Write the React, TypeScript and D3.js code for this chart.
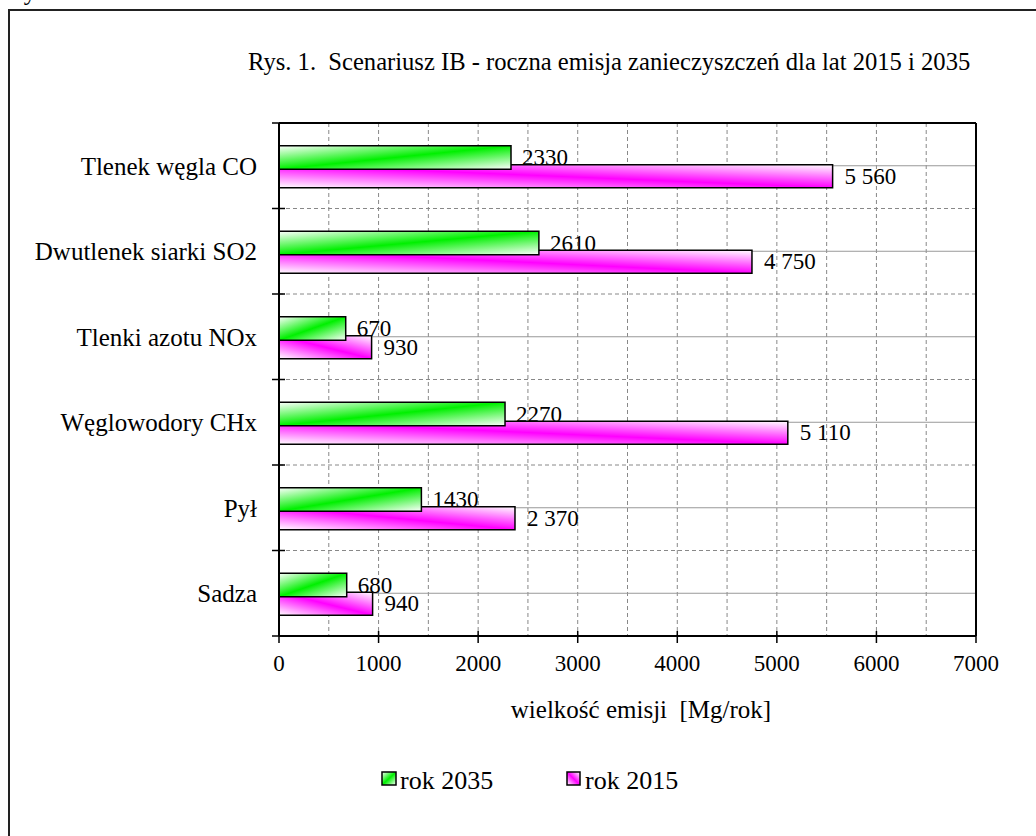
import React from "react";
import * as d3 from "d3";

const categories = ["Tlenek węgla CO", "Dwutlenek siarki SO2", "Tlenki azotu NOx", "Węglowodory CHx", "Pył", "Sadza"];
const values2035 = [2330, 2610, 670, 2270, 1430, 680];
const values2015 = [5560, 4750, 930, 5110, 2370, 940];
const xTicks = [0, 1000, 2000, 3000, 4000, 5000, 6000, 7000];
const seriesNames = ["rok 2035", "rok 2015"];
const title = "Rys. 1.  Scenariusz IB - roczna emisja zanieczyszczeń dla lat 2015 i 2035";
const xTitle = "wielkość emisji  [Mg/rok]";

const FONT = "'Liberation Serif', 'Times New Roman', serif";

export default function App() {
  const W = 1036, H = 836;
  const x = d3.scaleLinear().domain([0, 7000]).range([279, 976]);
  const y = d3.scaleBand<string>().domain(categories).range([123, 636]);
  const bw = y.bandwidth();
  const grid = d3.range(500, 7000, 500);
  const fmt2015 = (v: number) => d3.format(",")(v).replace(/,/g, " ");
  const fmt2035 = d3.format("d");
  const left = x(0), right = x(7000), top = 123, bottom = 636;
  const pre = { whiteSpace: "pre" as const };

  return (
    <svg width={W} height={H} style={{ position: "absolute", left: 0, top: 0, background: "#fff" }} fontFamily={FONT}>
      <defs>
        <linearGradient id="gGreen" x1="0" y1="0" x2="1" y2="1">
          <stop offset="0" stopColor="#ffffff" />
          <stop offset="0.5" stopColor="#00f000" />
          <stop offset="1" stopColor="#ffffff" />
        </linearGradient>
        <linearGradient id="gMag" x1="0" y1="1" x2="1" y2="0">
          <stop offset="0" stopColor="#ffffff" />
          <stop offset="0.5" stopColor="#ff00ff" />
          <stop offset="1" stopColor="#ffffff" />
        </linearGradient>
      </defs>
      <rect x={0} y={0} width={W} height={H} fill="#fff" />
      <text x={8} y={0} fontSize={25} fill="#000">Rys.</text>
      <rect x={9} y={10} width={1100} height={900} fill="none" stroke="#222" strokeWidth={2} />

      <text x={248} y={70} fontSize={24.6} fill="#000" style={pre}>{title}</text>

      {/* grid */}
      {grid.map((g) => (
        <line key={"v" + g} x1={x(g)} x2={x(g)} y1={top} y2={bottom} stroke="#888" strokeWidth={1} strokeDasharray="4,3" />
      ))}
      {categories.slice(1).map((c) => (
        <line key={"h" + c} x1={left} x2={right} y1={y(c)!} y2={y(c)!} stroke="#888" strokeWidth={1} strokeDasharray="4,3" />
      ))}
      {categories.map((c) => (
        <line key={"m" + c} x1={left} x2={right} y1={y(c)! + bw / 2} y2={y(c)! + bw / 2} stroke="#999" strokeWidth={1} />
      ))}

      {/* bars */}
      {categories.map((c, i) => {
        const cy = y(c)! + bw / 2;
        return (
          <g key={"b" + c}>
            <rect x={x(0)} y={cy - 1} width={x(values2015[i]) - x(0)} height={23} fill="url(#gMag)" stroke="#000" strokeWidth={1.5} />
            <rect x={x(0)} y={cy - 20} width={x(values2035[i]) - x(0)} height={23.5} fill="url(#gGreen)" stroke="#000" strokeWidth={1.5} />
            <text x={x(values2035[i]) + 11} y={cy - 0.5} fontSize={23} fill="#000">{fmt2035(values2035[i])}</text>
            <text x={x(values2015[i]) + 12} y={cy + 18} fontSize={23} fill="#000" style={pre}>{fmt2015(values2015[i])}</text>
            <text x={257} y={cy + 9} fontSize={25} textAnchor="end" fill="#000">{c}</text>
          </g>
        );
      })}

      {/* axes & frame */}
      <line x1={left} x2={right} y1={top} y2={top} stroke="#000" strokeWidth={2} />
      <line x1={right} x2={right} y1={top} y2={bottom} stroke="#000" strokeWidth={2} />
      <line x1={left} x2={left} y1={top} y2={bottom} stroke="#000" strokeWidth={2} />
      <line x1={left} x2={right} y1={bottom} y2={bottom} stroke="#000" strokeWidth={2} />
      {[...categories.map((c) => y(c)!), bottom].map((ty, i) => (
        <line key={"yt" + i} x1={left - 7} x2={left + 6} y1={ty} y2={ty} stroke="#000" strokeWidth={1.5} />
      ))}
      {xTicks.map((t) => (
        <g key={"xt" + t}>
          <line x1={x(t)} x2={x(t)} y1={bottom - 5} y2={bottom + 7} stroke="#000" strokeWidth={1.5} />
          <text x={x(t)} y={671} fontSize={23} textAnchor="middle" fill="#000">{t}</text>
        </g>
      ))}
      <text x={641} y={718} fontSize={25} textAnchor="middle" fill="#000" style={pre}>{xTitle}</text>

      {/* legend */}
      <rect x={382} y={772} width={14} height={13} fill="url(#gGreen)" stroke="#000" strokeWidth={1.5} />
      <text x={400} y={789} fontSize={26} fill="#000">{seriesNames[0]}</text>
      <rect x={567} y={772} width={13} height={13} fill="url(#gMag)" stroke="#000" strokeWidth={1.5} />
      <text x={585} y={789} fontSize={26} fill="#000">{seriesNames[1]}</text>
    </svg>
  );
}
